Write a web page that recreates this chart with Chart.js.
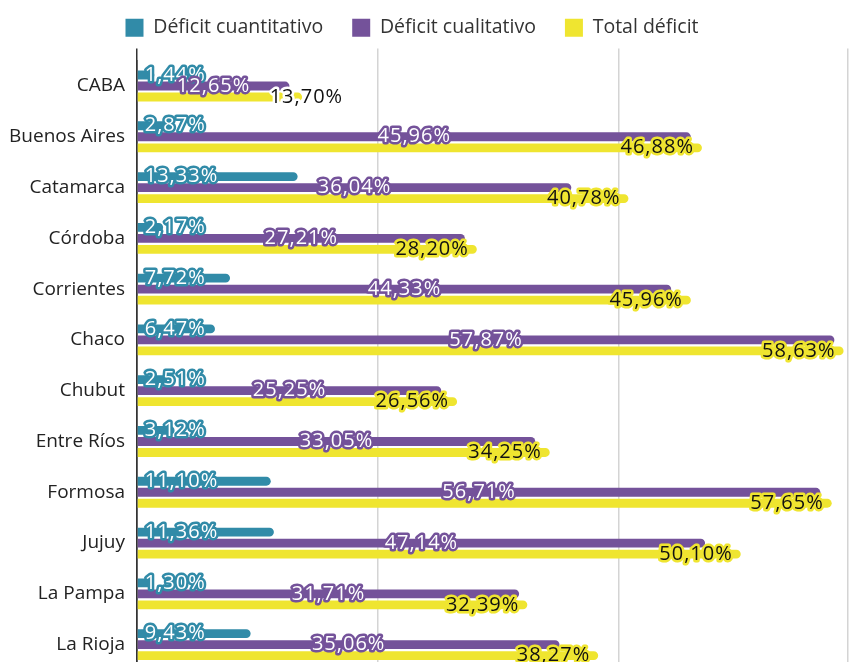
<!DOCTYPE html>
<html>
<head>
<meta charset="utf-8">
<script src="https://cdn.jsdelivr.net/npm/chart.js@4.4.0/dist/chart.umd.min.js"></script>
<style>
  html, body { margin: 0; padding: 0; background: #fff; overflow: hidden; }
</style>
</head>
<body>
<canvas id="myChart" width="853" height="670"></canvas>
<script>
const provincias = [
  "CABA", "Buenos Aires", "Catamarca", "Córdoba", "Corrientes", "Chaco",
  "Chubut", "Entre Ríos", "Formosa", "Jujuy", "La Pampa", "La Rioja"
];
const deficitCuantitativo = [1.44, 2.87, 13.33, 2.17, 7.72, 6.47, 2.51, 3.12, 11.10, 11.36, 1.30, 9.43];
const deficitCualitativo = [12.65, 45.96, 36.04, 27.21, 44.33, 57.87, 25.25, 33.05, 56.71, 47.14, 31.71, 35.06];
const totalDeficit = [13.70, 46.88, 40.78, 28.20, 45.96, 58.63, 26.56, 34.25, 57.65, 50.10, 32.39, 38.27];

const FONT = '"Open Sans", "Noto Sans", sans-serif';
const colors = ["#318ba8", "#74529a", "#efe530"];

function fmt(v) {
  return v.toFixed(2).replace(".", ",") + "%";
}

// etiquetas de valor con halo del color de la serie
const valueLabels = {
  id: "valueLabels",
  afterDatasetsDraw(chart) {
    const ctx = chart.ctx;
    ctx.save();
    ctx.font = "20px " + FONT;
    ctx.letterSpacing = "1px";
    ctx.textBaseline = "middle";
    ctx.lineJoin = "round";
    ctx.lineWidth = 5;
    chart.data.datasets.forEach((ds, i) => {
      const meta = chart.getDatasetMeta(i);
      meta.data.forEach((bar, j) => {
        const txt = fmt(ds.data[j]);
        let x, fill, stroke;
        if (i === 0) {
          ctx.textAlign = "left";
          x = bar.base + 7;
          fill = "#fff"; stroke = colors[0];
        } else if (i === 1) {
          ctx.textAlign = "center";
          x = (bar.base + bar.x) / 2;
          fill = "#fff"; stroke = colors[1];
        } else {
          ctx.textAlign = "right";
          x = bar.x - 8;
          fill = "#111"; stroke = colors[2];
          if (j === 0) { x = bar.x + 41; stroke = "#fff"; }
        }
        ctx.strokeStyle = stroke;
        ctx.strokeText(txt, x, bar.y);
        ctx.fillStyle = fill;
        ctx.fillText(txt, x, bar.y);
      });
    });
    ctx.restore();
  }
};

// sube un poco la leyenda y la corre a la izquierda
const legendShift = {
  id: "legendShift",
  afterLayout(chart) {
    const lg = chart.legend;
    lg.top -= 11; lg.bottom -= 11;
    lg.left -= 12; lg.right -= 12;
  }
};

const ctx = document.getElementById("myChart").getContext("2d");
const myChart = new Chart(ctx, {
  type: "bar",
  data: {
    labels: provincias,
    datasets: [
      { label: "Déficit cuantitativo", data: deficitCuantitativo, backgroundColor: colors[0] },
      { label: "Déficit cualitativo", data: deficitCualitativo, backgroundColor: colors[1] },
      { label: "Total déficit", data: totalDeficit, backgroundColor: colors[2] }
    ]
  },
  options: {
    indexAxis: "y",
    responsive: false,
    animation: false,
    layout: { padding: { top: 0, right: 5, bottom: 0, left: 0 } },
    datasets: {
      bar: {
        barPercentage: 0.8,
        categoryPercentage: 0.65,
        borderRadius: 5,
        borderSkipped: "start"
      }
    },
    plugins: {
      tooltip: { enabled: false },
      legend: {
        position: "top",
        labels: {
          boxWidth: 18,
          boxHeight: 18,
          padding: 29,
          color: "#333",
          font: { family: FONT, size: 19.5 }
        }
      }
    },
    scales: {
      x: {
        position: "top",
        min: 0,
        max: 59,
        ticks: { display: false, stepSize: 20 },
        border: { display: false },
        grid: {
          color: (c) => (c.tick && c.tick.value === 0 ? "#333" : "#d4d4d4"),
          tickLength: 12,
          lineWidth: 1.5
        },
        afterFit: (s) => { s.height = 2.1; }
      },
      y: {
        grid: { display: false, drawTicks: false },
        border: { display: true, color: "#333", width: 1.5 },
        ticks: { color: "#222", padding: 12, font: { family: FONT, size: 19 } },
        afterFit: (s) => { s.width = 137; s.paddingTop = 0; s.paddingBottom = 0; }
      }
    }
  },
  plugins: [valueLabels, legendShift]
});
</script>
</body>
</html>
